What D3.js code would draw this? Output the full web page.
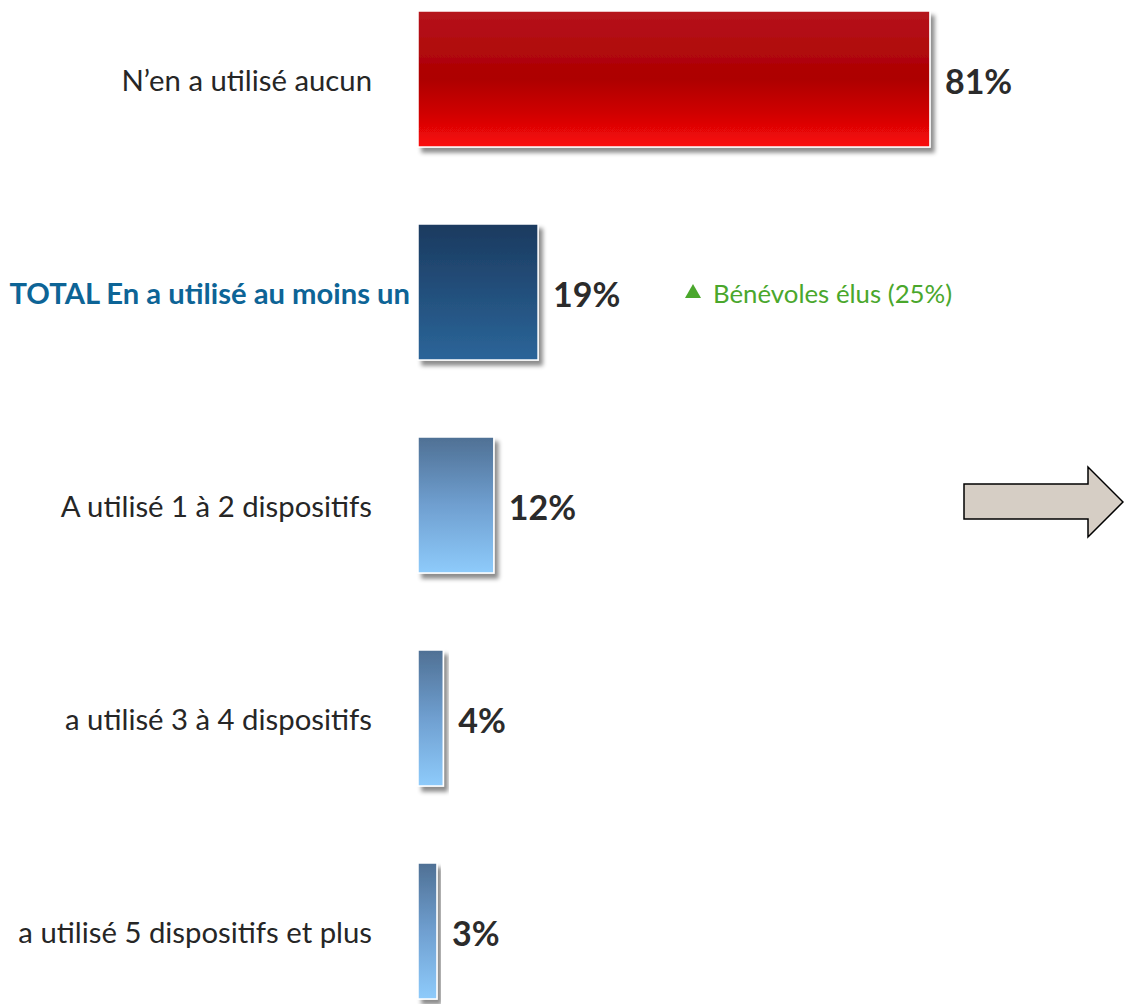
<!DOCTYPE html>
<html>
<head>
<meta charset="utf-8">
<script src="https://cdn.jsdelivr.net/npm/d3@7"></script>
<style>
  html, body { margin: 0; padding: 0; background: #fff; }
  svg { display: block; }
</style>
</head>
<body>
<svg id="chart" width="1124" height="1004"></svg>
<script>
// ---- data ----
const categories = [
  "N\u2019en a utilisé aucun",
  "TOTAL En a utilisé au moins un",
  "A utilisé 1 à 2 dispositifs",
  "a utilisé 3 à 4 dispositifs",
  "a utilisé 5 dispositifs et plus"
];
const values = [81, 19, 12, 4, 3];
const valueLabels = ["81%", "19%", "12%", "4%", "3%"];
const annotationText = "Bénévoles élus (25%)";
const annotationIndex = 1;
const highlightIndex = 1;

// ---- layout ----
const W = 1124, H = 1004;
const barX0 = 418;
const svg = d3.select("#chart");
const defs = svg.append("defs");

const x = d3.scaleLinear().domain([0, 100]).range([barX0, barX0 + 632]);
const y = d3.scaleBand().domain(categories).range([11, 999])
  .paddingInner(77 / 213).paddingOuter(0);

// gradients
function grad(id, stops) {
  const g = defs.append("linearGradient").attr("id", id)
    .attr("x1", 0).attr("y1", 0).attr("x2", 0).attr("y2", 1);
  stops.forEach(s => g.append("stop").attr("offset", s[0]).attr("stop-color", s[1]));
}
grad("gRed", [[0, "#b5141d"], [0.5, "#ad0000"], [0.75, "#cf0404"], [1, "#fb0909"]]);
grad("gDark", [[0, "#1b3a5f"], [1, "#2b6599"]]);
grad("gLight", [[0, "#4f7094"], [0.5, "#6f9fd0"], [1, "#8ecbfb"]]);
const fills = ["url(#gRed)", "url(#gDark)", "url(#gLight)", "url(#gLight)", "url(#gLight)"];

const f = defs.append("filter").attr("id", "shadow")
  .attr("x", "-10%").attr("y", "-10%").attr("width", "130%").attr("height", "130%");
f.append("feDropShadow").attr("dx", 4).attr("dy", 5).attr("stdDeviation", 2.2)
  .attr("flood-color", "#000").attr("flood-opacity", 0.45);

// bars
svg.append("g").selectAll("rect").data(values).join("rect")
  .attr("x", x(0))
  .attr("y", (d, i) => y(categories[i]))
  .attr("width", d => x(d) - x(0))
  .attr("height", y.bandwidth())
  .attr("fill", (d, i) => fills[i])
  .attr("stroke", "#fff").attr("stroke-width", 1.5)
  .attr("filter", "url(#shadow)");

// category labels
svg.append("g").selectAll("text").data(categories).join("text")
  .attr("x", (d, i) => i === highlightIndex ? x(0) - 8 : x(0) - 46)
  .attr("y", d => y(d) + y.bandwidth() / 2)
  .attr("text-anchor", "end")
  .attr("dominant-baseline", "central")
  .attr("font-family", "Lato, 'Open Sans', sans-serif")
  .attr("font-size", (d, i) => i === highlightIndex ? 29.2 : 29.3)
  .attr("font-weight", (d, i) => i === highlightIndex ? "bold" : "normal")
  .attr("fill", (d, i) => i === highlightIndex ? "#0d6496" : "#262626")
  .text(d => d);

// value labels
svg.append("g").selectAll("text").data(values).join("text")
  .attr("x", d => x(d) + 15)
  .attr("y", (d, i) => y(categories[i]) + y.bandwidth() / 2 + 1)
  .attr("dominant-baseline", "central")
  .attr("font-family", "Lato, 'Open Sans', sans-serif")
  .attr("font-size", 34)
  .attr("font-weight", "bold")
  .attr("fill", "#2b2b2b")
  .text((d, i) => valueLabels[i]);

// annotation
const ay = y(categories[annotationIndex]) + y.bandwidth() / 2 + 1;
const ax = 685;
svg.append("path")
  .attr("d", `M${ax},${ay + 5} L${ax + 8},${ay - 9} L${ax + 16},${ay + 5} Z`)
  .attr("fill", "#4aa72c");
svg.append("text")
  .attr("x", ax + 28).attr("y", ay)
  .attr("dominant-baseline", "central")
  .attr("font-family", "Lato, 'Open Sans', sans-serif")
  .attr("font-size", 25.8)
  .attr("fill", "#4aa72c")
  .text(annotationText);

// arrow shape
const arrowPts = [[964, 484], [1088, 484], [1088, 467], [1123, 502], [1088, 537], [1088, 519], [964, 519]];
svg.append("path")
  .attr("d", d3.line()(arrowPts) + "Z")
  .attr("fill", "#d6cec5")
  .attr("stroke", "#000")
  .attr("stroke-width", 1.5)
  .attr("stroke-linejoin", "miter");
</script>
</body>
</html>
